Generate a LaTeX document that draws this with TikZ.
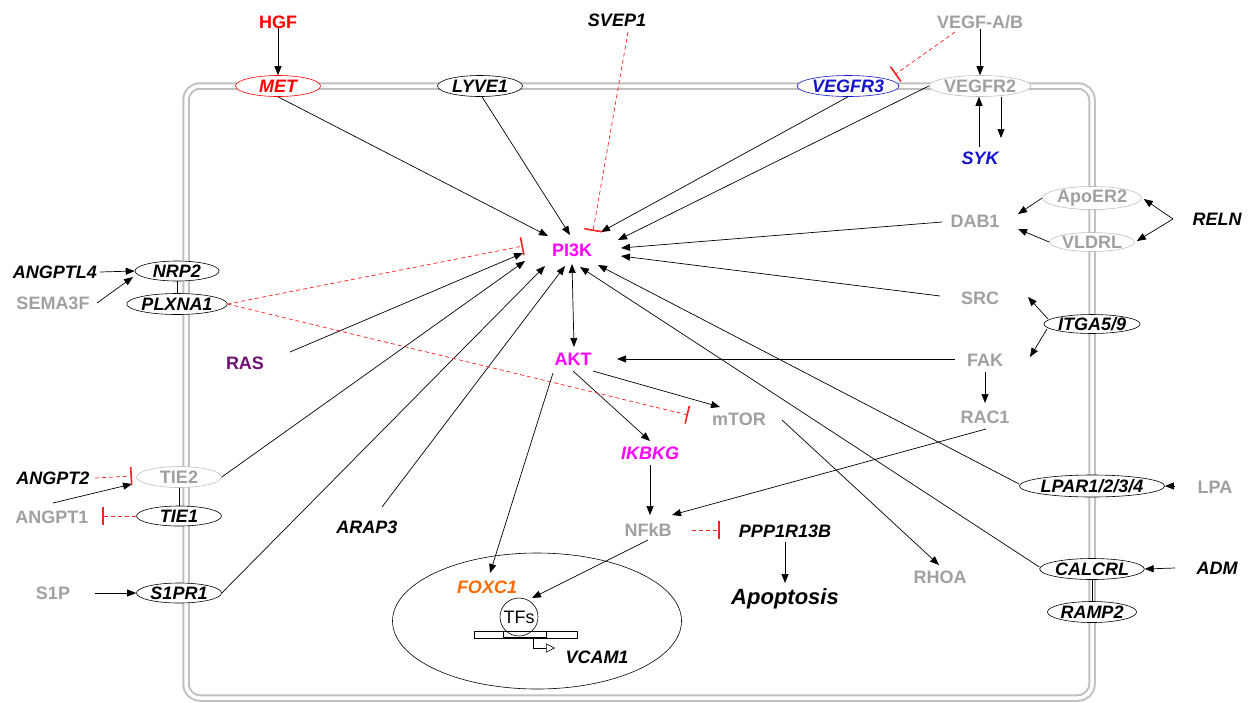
\documentclass[tikz,border=0pt]{standalone}
\usepackage{fontspec}
\setmainfont{Liberation Sans}
\usetikzlibrary{arrows.meta,shapes.geometric}
\definecolor{gtxt}{HTML}{A0A0A0}
\definecolor{gmem}{HTML}{C0C0C0}
\definecolor{mag}{HTML}{FF00FF}
\definecolor{rasc}{HTML}{6E1070}
\definecolor{orng}{HTML}{FF6A00}
\definecolor{blu}{HTML}{1515CC}
\definecolor{inhred}{HTML}{FF2020}
\tikzset{
  lbl/.style={font=\fontsize{18}{20}\selectfont\bfseries, inner sep=0pt, text depth=0pt},
  bi/.style={lbl, font=\fontsize{18}{20}\selectfont\bfseries\itshape},
  gt/.style={lbl, text=gtxt},
  rec/.style={ellipse, draw, fill=white, minimum width=85pt, minimum height=21pt, inner sep=0pt, line width=0.6pt, font=\fontsize{18}{20}\selectfont\bfseries\itshape},
  grec/.style={rec, draw=gmem, text=gtxt, font=\fontsize{18}{20}\selectfont\bfseries},
  act/.style={-{Triangle[length=9pt,width=7pt]}, line width=0.7pt},
  inh/.style={inhred, dash pattern=on 4pt off 3pt, line width=0.7pt, -{Bar[width=18pt,line width=1.6pt]}},
  plain/.style={line width=0.7pt},
}
\begin{document}
\begin{tikzpicture}[x=1pt,y=-1pt]
\useasboundingbox (0,0) rectangle (1249,702);
% membrane
\draw[gmem, line width=2pt, double=white, double distance=3.5pt, rounded corners=14pt] (186,86) rectangle (1092,698);
% nucleus
\node[ellipse, draw, line width=0.6pt, minimum width=289pt, minimum height=136pt, inner sep=0pt] (nuc) at (537,621) {};
% receptors and nodes
\node[lbl, text=red] (hgf) at (278,22) {HGF};
\node[rec, draw=red, text=red] (met) at (278,86) {MET};
\node[rec] (lyve1) at (480,86) {LYVE1};
\node[bi] (svep1) at (617,20) {SVEP1};
\node[gt] (vegf) at (980,22) {VEGF-A/B};
\node[rec, draw=blu, text=blu] (vegfr3) at (848,86) {VEGFR3};
\node[grec] (vegfr2) at (980,86) {VEGFR2};
\node[bi, text=blu] (syk) at (980,158) {SYK};
\node[bi] (reln) at (1217,219) {RELN};
\node[grec, minimum height=19pt] (apoer2) at (1092,198) {ApoER2};
\node[grec, minimum height=19pt] (vldrl) at (1092,242) {VLDRL};
\node[gt] (dab1) at (975,221) {DAB1};
\node[gt] (src) at (980,298) {SRC};
\node[rec, minimum width=89pt, minimum height=18pt] (itga) at (1092,324) {ITGA5/9};
\node[gt] (fak) at (985,360) {FAK};
\node[gt] (rac1) at (985,417) {RAC1};
\node[rec, minimum width=111pt, minimum height=22pt] (lpar) at (1092,486) {LPAR1/2/3/4};
\node[gt] (lpa) at (1215,487) {LPA};
\node[rec] (calcrl) at (1092,569) {CALCRL};
\node[bi] (adm) at (1217,568) {ADM};
\node[rec] (ramp2) at (1092,612) {RAMP2};
\node[bi] (angptl4) at (55,272) {ANGPTL4};
\node[rec, minimum width=84pt, minimum height=20pt] (nrp2) at (177,271) {NRP2};
\node[gt] (sema3f) at (53,303) {SEMA3F};
\node[rec, minimum width=84pt, minimum height=21pt] (plxna1) at (177,304) {PLXNA1};
\node[lbl, text=rasc] (ras) at (245,363) {RAS};
\node[bi] (angpt2) at (53,478) {ANGPT2};
\node[grec, minimum height=21pt] (tie2) at (179,477) {TIE2};
\node[gt] (angpt1) at (52,517) {ANGPT1};
\node[rec, minimum height=20pt] (tie1) at (179,516) {TIE1};
\node[gt] (s1p) at (53,593) {S1P};
\node[rec, minimum height=20pt] (s1pr1) at (179,593) {S1PR1};
\node[bi] (arap3) at (367,527) {ARAP3};
\node[lbl, text=mag] (pi3k) at (572,250) {PI3K};
\node[lbl, text=mag] (akt) at (573,359) {AKT};
\node[gt] (mtor) at (739,419) {mTOR};
\node[bi, text=mag] (ikbkg) at (650,453) {IKBKG};
\node[gt] (nfkb) at (648,530) {NFkB};
\node[bi] (ppp) at (785,531) {PPP1R13B};
\node[bi, font=\fontsize{22}{24}\selectfont\bfseries\itshape] (apop) at (785,597) {Apoptosis};
\node[gt] (rhoa) at (940,577) {RHOA};
\node[bi, text=orng] (foxc1) at (487,587) {FOXC1};
\node[circle, draw, line width=0.6pt, minimum size=38pt, inner sep=0pt, font=\fontsize{18}{20}\selectfont] (tfs) at (519,617) {TFs};
\node[bi] (vcam1) at (597,657) {VCAM1};
% DNA
\draw[line width=0.6pt] (474,631) rectangle (577,638);
\draw[line width=0.6pt] (503,631) -- (503,638) (546,631) -- (546,638);
\draw[line width=1.6pt] (503,638) -- (546,638);
\draw[line width=0.6pt, -{Triangle[open,length=9pt,width=9pt]}] (533,638) |- (555,648);
% receptor complexes
\draw[plain] (nrp2.south) -- (plxna1.north);
\draw[plain] (tie2.south) -- (tie1.north);
\draw[plain] (calcrl.south) -- (ramp2.north);
% activations
\draw[act] (hgf.south) -- (met.north);
\draw[act] (vegf.south) -- (vegfr2.north);
\draw[act] ([shift={(-1,-11)}]syk.center) -- ([shift={(-1,0)}]vegfr2.south);
\draw[act] ([shift={(21,0)}]vegfr2.south) -- ([shift={(21,-20)}]syk.center);
\draw[act] (met.south) -- ([shift={(-24,-14)}]pi3k.center);
\draw[act] ([shift={(2,0)}]lyve1.south) -- ([shift={(-2,-15)}]pi3k.center);
\draw[act] (vegfr3.south) -- ([shift={(29,-18)}]pi3k.center);
\draw[act] (vegfr2.west) -- ([shift={(46,-10)}]pi3k.center);
\draw[act] ([shift={(-33,1)}]dab1.center) -- ([shift={(49,-2)}]pi3k.center);
\draw[act] ([shift={(-40,-2)}]src.center) -- ([shift={(49,6)}]pi3k.center);
\draw[act] ([shift={(0,-2)}]lpar.west) -- ([shift={(26,15)}]pi3k.center);
\draw[act] ([shift={(0,-2)}]calcrl.west) -- ([shift={(8,17)}]pi3k.center);
\draw[{Triangle[length=9pt,width=7pt]}-{Triangle[length=9pt,width=7pt]}, line width=0.7pt] ([shift={(0,14)}]pi3k.center) -- ([shift={(1,-12)}]akt.center);
\draw[act] ([shift={(15,-20)}]arap3.center) -- ([shift={(-7,16)}]pi3k.center);
\draw[act] (s1pr1.east) -- ([shift={(-27,16)}]pi3k.center);
\draw[act] (tie2.east) -- ([shift={(-47,11)}]pi3k.center);
\draw[act] ([shift={(45,-11)}]ras.center) -- ([shift={(-49,3)}]pi3k.center);
\draw[act] ([shift={(-44,0)}]reln.center) -- ([shift={(2,1)}]apoer2.east);
\draw[act] ([shift={(-44,0)}]reln.center) -- ([shift={(2,-1)}]vldrl.east);
\draw[act] (apoer2.west) -- ([shift={(43,-7)}]dab1.center);
\draw[act] (vldrl.west) -- ([shift={(43,8)}]dab1.center);
\draw[act] ([shift={(-44,-5)}]itga.center) -- ([shift={(48,-1)}]src.center);
\draw[act] ([shift={(-45,5)}]itga.center) -- ([shift={(45,-3)}]fak.center);
\draw[act] ([shift={(-30,-1)}]fak.center) -- ([shift={(44,0)}]akt.center);
\draw[act] ([shift={(0,12)}]fak.center) -- ([shift={(0,-14)}]rac1.center);
\draw[act] ([shift={(1,12)}]rac1.center) -- ([shift={(24,-15)}]nfkb.center);
\draw[act] ([shift={(20,12)}]akt.center) -- ([shift={(-19,-12)}]mtor.center);
\draw[act] ([shift={(0,12)}]akt.center) -- ([shift={(0,-12)}]ikbkg.center);
\draw[act] ([shift={(-20,14)}]akt.center) -- ([shift={(3,-14)}]foxc1.center);
\draw[act] ([shift={(43,1)}]mtor.center) -- ([shift={(-1,-12)}]rhoa.center);
\draw[act] ([shift={(0,12)}]ikbkg.center) -- ([shift={(2,-15)}]nfkb.center);
\draw[act] ([shift={(0,11)}]ppp.center) -- ([shift={(0,-14)}]apop.center);
\draw[act] ([shift={(0,10)}]nfkb.center) -- ([shift={(13,-19)}]tfs.center);
\draw[act] ([shift={(-40,-1)}]lpa.center) -- (lpar.east);
\draw[act] ([shift={(-42,0)}]adm.center) -- (calcrl.east);
\draw[act] ([shift={(45,0)}]angptl4.center) -- (nrp2.west);
\draw[act] ([shift={(44,0)}]sema3f.center) -- ([shift={(-44,6)}]nrp2.center);
\draw[act] ([shift={(1,-14)}]angpt1.center) -- ([shift={(-47,7)}]tie2.center);
\draw[act] ([shift={(42,0)}]s1p.center) -- (s1pr1.west);
% inhibitions
\draw[inh] ([shift={(11,12)}]svep1.center) -- ([shift={(21,-19)}]pi3k.center);
\draw[inh] ([shift={(-25,10)}]vegf.center) -- ([shift={(47,-11.5)}]vegfr3.center);
\draw[inh] (plxna1.east) -- ([shift={(-49,-4)}]pi3k.center);
\draw[inh] (plxna1.east) -- ([shift={(-51,-4)}]mtor.center);
\draw[inh] ([shift={(42,0)}]angpt2.center) -- ([shift={(-47,-1)}]tie2.center);
\draw[inh] (tie1.west) -- ([shift={(50,-1)}]angpt1.center);
\draw[inh] ([shift={(44,0)}]nfkb.center) -- ([shift={(-65,-1)}]ppp.center);
\end{tikzpicture}
\end{document}
